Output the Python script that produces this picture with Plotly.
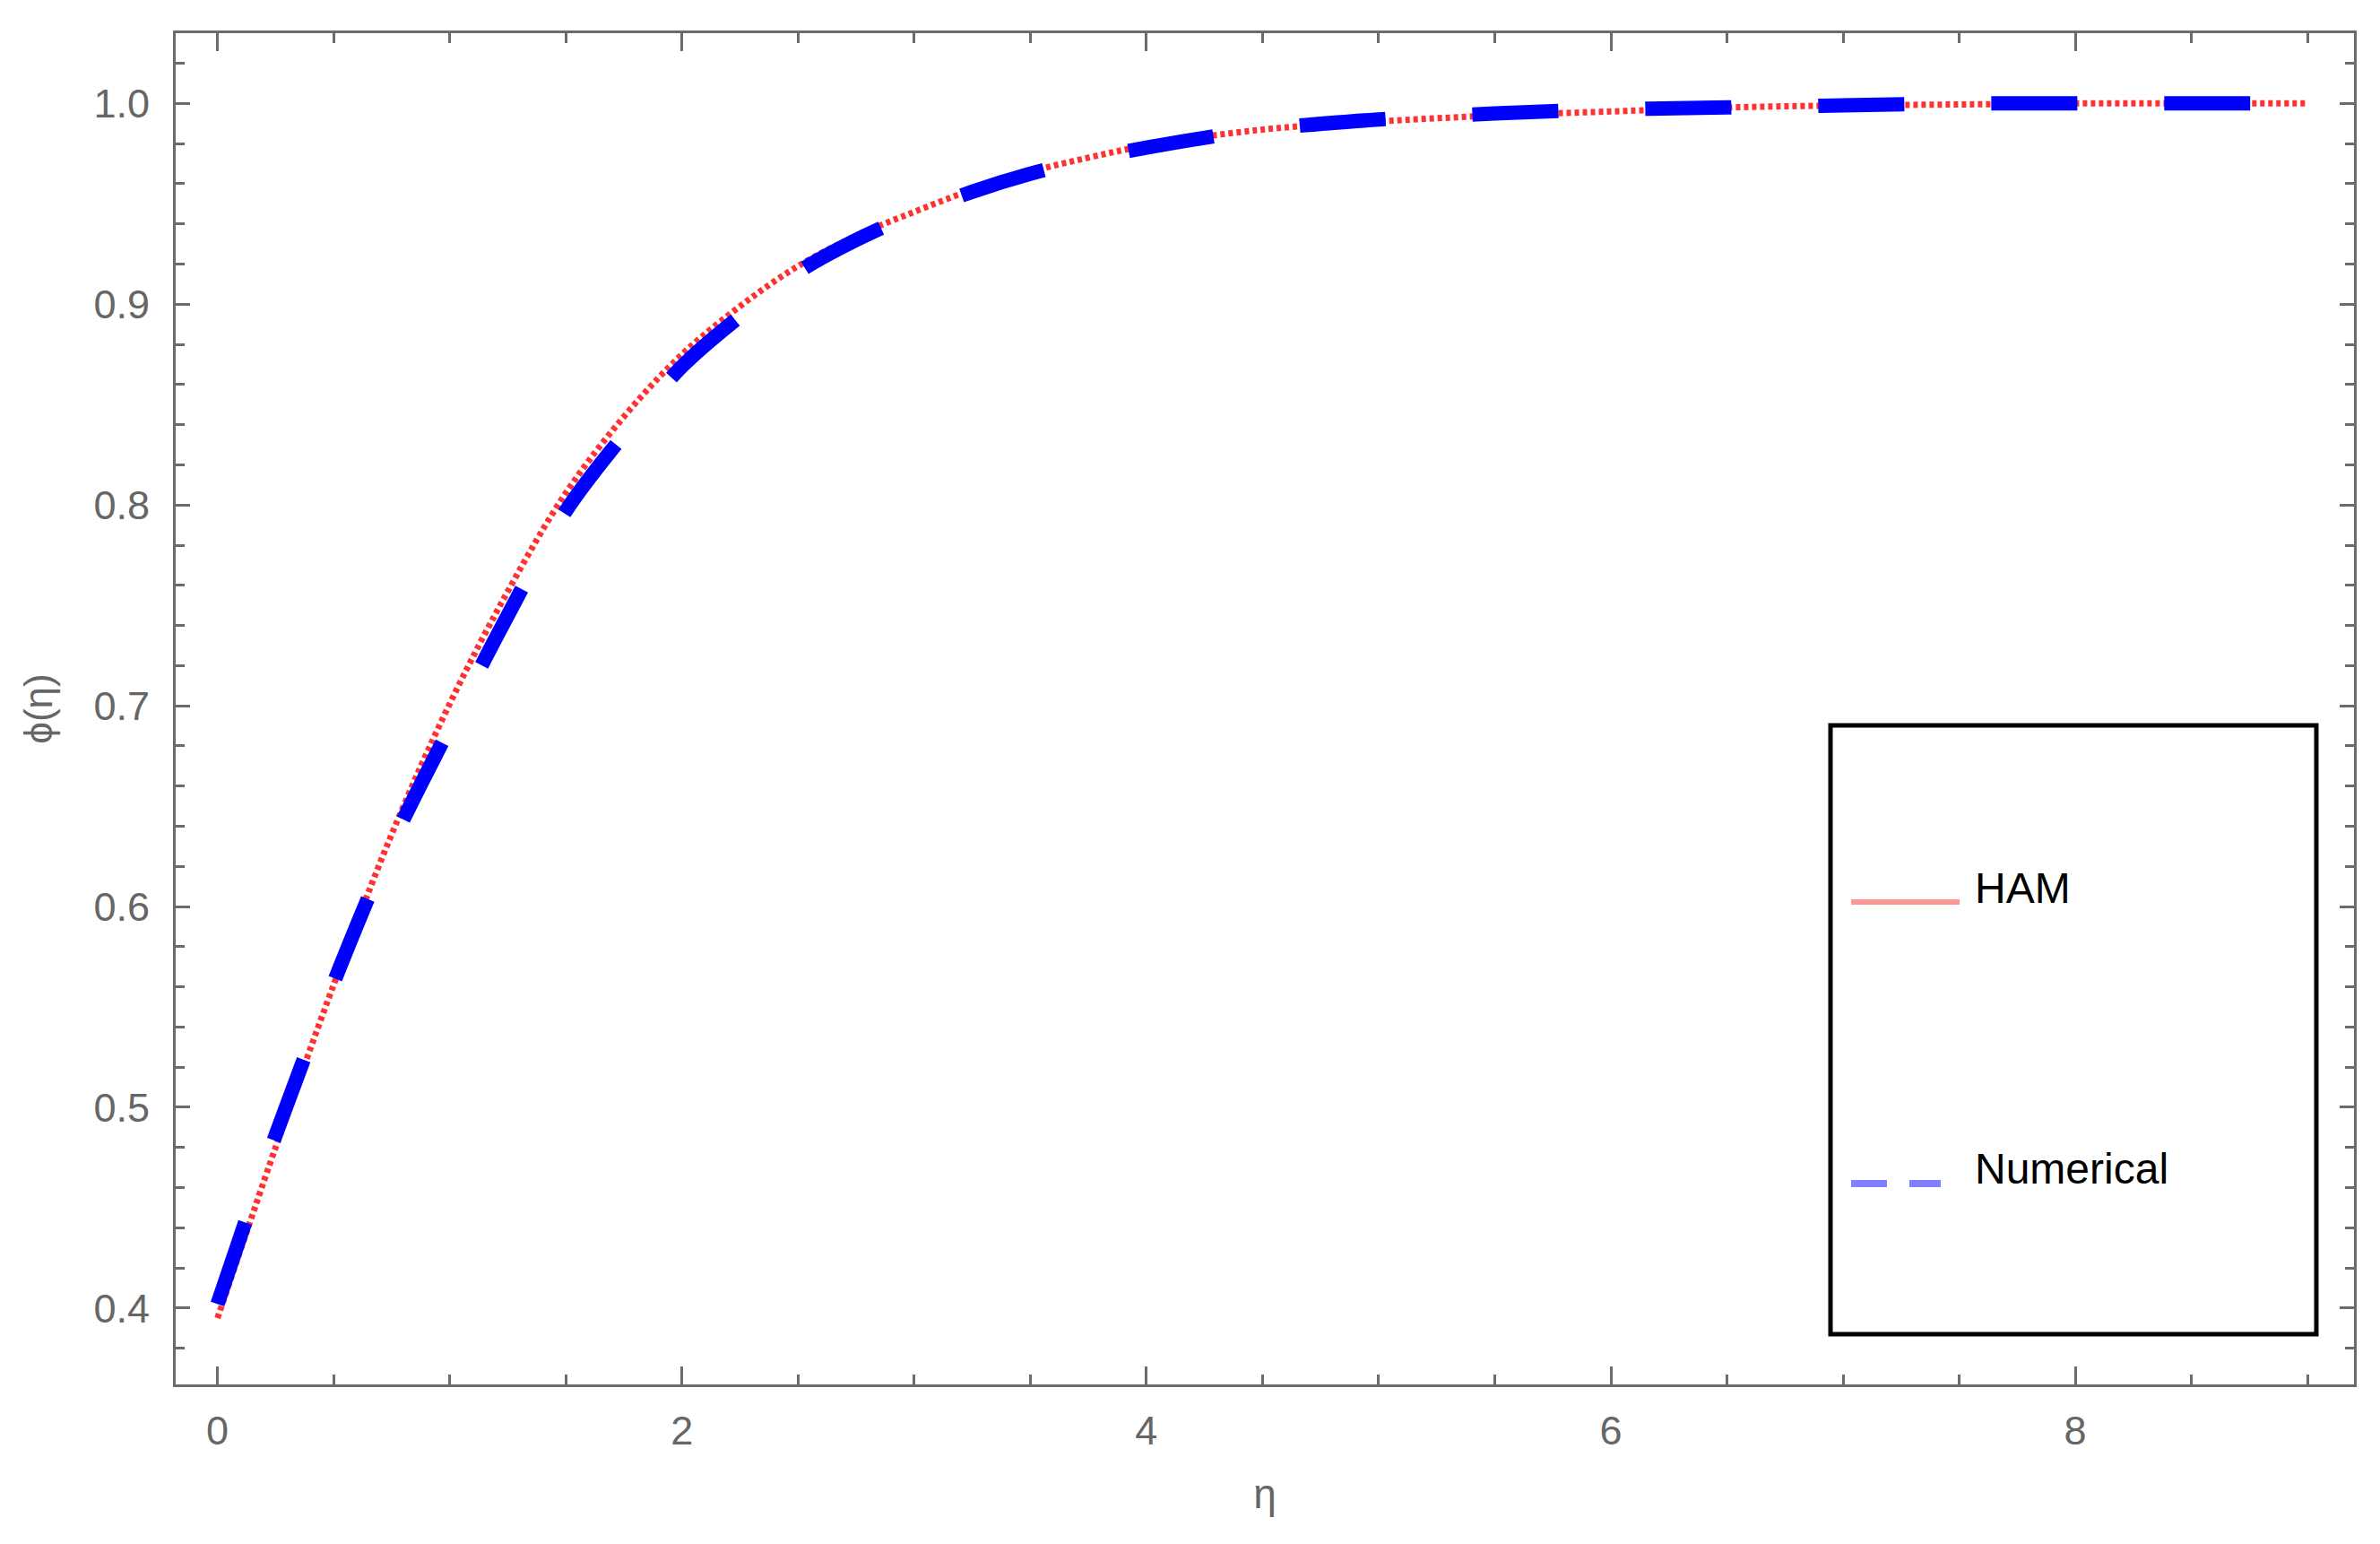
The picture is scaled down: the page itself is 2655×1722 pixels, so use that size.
import plotly.graph_objects as go

# eta grid and the two profiles
eta=[0,0.25,0.5,0.75,1.0,1.25,1.5,1.75,2.0,2.25,2.5,2.75,3.0,3.25,3.5,3.75,4.0,
     4.5,5.0,5.5,6.0,6.5,7.0,7.5,8.0,8.5,9.0]
phi_ham=[0.395,0.480,0.561,0.636,0.701,0.757,0.806,0.844,0.875,0.899,0.919,0.934,0.946,0.957,0.966,0.973,0.979,
         0.987,0.991,0.994,0.996,0.998,0.999,0.9995,1.0,1.0,1.0]
phi_num=[0.402,0.486,0.562,0.631,0.689,0.745,0.797,0.835,0.869,0.894,0.916,0.932,0.945,0.956,0.965,0.972,0.978,
         0.987,0.992,0.995,0.997,0.998,0.999,1.0,1.0,1.0,1.0]
series_names=["HAM","Numerical"]

x_ticks=[0,2,4,6,8]
y_ticks=[0.4,0.5,0.6,0.7,0.8,0.9,1.0]

AXIS_GRAY="#6b6b6b"
LABEL_GRAY="#666666"
FONT="Liberation Sans, Arial, sans-serif"

# page has an 8px body margin, so the figure is a bit smaller than the window
W,H=2655-16,1722-16
PLOT_L,PLOT_R,PLOT_T,PLOT_B=196,2626,37,1544   # frame in reference pixels

def paper(x,y):
    return (x-PLOT_L)/(PLOT_R-PLOT_L),(PLOT_B-y)/(PLOT_B-PLOT_T)

fig=go.Figure()

fig.add_trace(go.Scatter(
    x=eta,y=phi_ham,mode="lines",name=series_names[0],
    line=dict(color="rgb(255,50,50)",width=7,dash="5px,4px",shape="spline"),
    showlegend=False
))
fig.add_trace(go.Scatter(
    x=eta,y=phi_num,mode="lines",name=series_names[1],
    line=dict(color="rgb(0,0,255)",width=16,dash="96px,97px",shape="spline"),
    showlegend=False
))

axis_common=dict(
    showgrid=False,zeroline=False,
    showline=True,linecolor=AXIS_GRAY,linewidth=3,mirror="ticks",
    ticks="inside",tickwidth=3,tickcolor=AXIS_GRAY,
    tickfont=dict(family=FONT,size=45,color=LABEL_GRAY),
)

fig.update_layout(
    width=W,height=H,
    margin=dict(l=PLOT_L-8,r=W-(PLOT_R-8),t=PLOT_T-8,b=H-(PLOT_B-8),autoexpand=False),
    plot_bgcolor="white",paper_bgcolor="white",
    showlegend=False,
    xaxis=dict(
        axis_common,
        range=[-0.18,9.2],
        tickvals=x_ticks,ticktext=[str(v) for v in x_ticks],
        ticklen=20,ticklabelstandoff=10,
        minor=dict(ticks="inside",dtick=0.5,tick0=0,ticklen=11,tickwidth=3,tickcolor=AXIS_GRAY),
        title=dict(text="η",standoff=30,font=dict(family=FONT,size=46,color=LABEL_GRAY)),
    ),
    yaxis=dict(
        axis_common,
        range=[0.362,1.035],
        tickvals=y_ticks,ticktext=["%.1f"%v for v in y_ticks],
        ticklen=16,ticklabelstandoff=17,
        minor=dict(ticks="inside",dtick=0.02,tick0=0,ticklen=10,tickwidth=3,tickcolor=AXIS_GRAY),
        title=dict(text="ϕ(η)",standoff=33,font=dict(family=FONT,size=44,color=LABEL_GRAY)),
    ),
)

# legend box drawn by hand, as in the reference
bx0,by0=paper(2042,1488)
bx1,by1=paper(2584,809)
shapes=[dict(type="rect",xref="paper",yref="paper",x0=bx0,y0=by0,x1=bx1,y1=by1,
             line=dict(color="black",width=5),fillcolor="rgba(0,0,0,0)")]
hx0,hy=paper(2065,1006)
hx1,_=paper(2186,1006)
shapes.append(dict(type="line",xref="paper",yref="paper",x0=hx0,y0=hy,x1=hx1,y1=hy,
                   line=dict(color="rgb(255,150,150)",width=6)))
nx0,ny=paper(2065,1320)
nx1,_=paper(2165,1320)
shapes.append(dict(type="line",xref="paper",yref="paper",x0=nx0,y0=ny,x1=nx1,y1=ny,
                   line=dict(color="rgb(128,128,255)",width=8,dash="40px,25px")))

annotations=[]
for name,ypix in zip(series_names,[990,1303]):
    ax,ay=paper(2201,ypix)
    annotations.append(dict(
        x=ax,y=ay,xref="paper",yref="paper",text=name,showarrow=False,
        xanchor="left",yanchor="middle",
        font=dict(family=FONT,size=48,color="black")
    ))

fig.update_layout(shapes=shapes,annotations=annotations)

fig.write_html("out.html")
